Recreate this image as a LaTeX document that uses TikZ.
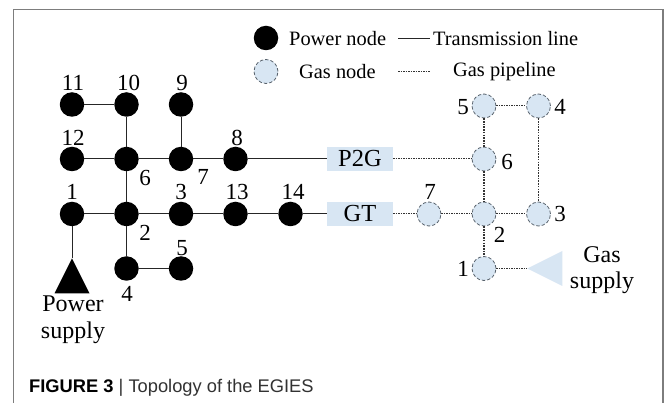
\documentclass[tikz,border=0pt]{standalone}
\usepackage{fontspec}
\usetikzlibrary{shapes.geometric}
\setmainfont{Liberation Serif}
\newfontfamily\capfont{Liberation Sans}
\definecolor{gasfill}{RGB}{216,230,243}
\definecolor{framegray}{RGB}{125,125,125}
\definecolor{gasedge}{RGB}{90,100,110}
\definecolor{capgray}{RGB}{50,50,50}
\tikzset{
  pnode/.style={circle,fill=black,minimum size=24.5pt,inner sep=0pt},
  gnode/.style={circle,fill=gasfill,draw=gasedge,dash pattern=on 3.4pt off 2pt,line width=0.8pt,minimum size=24pt,inner sep=0pt},
  conv/.style={fill=gasfill,minimum width=66pt,minimum height=24pt,inner sep=0pt,font=\fontsize{24.5}{24.5}\selectfont},
  lbl/.style={inner sep=0pt,font=\fontsize{23}{23}\selectfont},
  txt/.style={inner sep=0pt,font=\fontsize{20.4}{20.4}\selectfont},
  sup/.style={inner sep=0pt,align=center,font=\fontsize{24}{26.5}\selectfont},
  tline/.style={line width=1pt,draw=black!85},
  tthick/.style={line width=1.6pt,draw=black!85},
  gline/.style={line width=1pt,dash pattern=on 1.5pt off 1pt,draw=black!80},
  gthick/.style={line width=1.5pt,dash pattern=on 1.6pt off 1.1pt,draw=black!80},
  supply/.style={isosceles triangle,isosceles triangle apex angle=54,isosceles triangle stretches,minimum width=35pt,minimum height=35pt,inner sep=0pt,anchor=apex},
}
\begin{document}
\begin{tikzpicture}[x=1pt,y=-1pt]
\useasboundingbox (0,0) rectangle (665,403);
\fill[white] (0,0) rectangle (665,403);
\coordinate (fbl) at (13.5,403);
\coordinate (ftl) at (13.5,9.5);
\coordinate (ftr) at (663,9.5);
\coordinate (fbr) at (663,403);
\draw[framegray,line width=1.2pt] (fbl) -- (ftl) -- (ftr) -- (fbr);
% power nodes
\node[pnode] (p11) at (72,104.5) {};
\node[pnode] (p10) at (126.5,104.5) {};
\node[pnode] (p9) at (181,104.5) {};
\node[pnode] (p12) at (72,159) {};
\node[pnode] (p6) at (126.5,159) {};
\node[pnode] (p7) at (181,159) {};
\node[pnode] (p8) at (235.5,159) {};
\node[pnode] (p1) at (72,214) {};
\node[pnode] (p2) at (126.5,214) {};
\node[pnode] (p3) at (181,214) {};
\node[pnode] (p13) at (235.5,214) {};
\node[pnode] (p14) at (290.5,214) {};
\node[pnode] (p4) at (126.5,268.5) {};
\node[pnode] (p5) at (181,268.5) {};
\node[supply,fill=black,shape border rotate=90] (ps) at (72,258) {};
% converters
\node[conv] (p2g) at (360,159) {P2G};
\node[conv] (gt) at (360,214) {GT};
% gas nodes
\node[gnode] (g5) at (484,106) {};
\node[gnode] (g4) at (538.5,106) {};
\node[gnode] (g6) at (484,159) {};
\node[gnode] (g7) at (429,214) {};
\node[gnode] (g2) at (484,214) {};
\node[gnode] (g3) at (538.5,214) {};
\node[gnode] (g1) at (484,268.5) {};
\node[supply,fill=gasfill,shape border rotate=180] (gs) at (527,268.5) {};
% power lines
\draw[tline] (p11) -- (p10);
\draw[tthick] (p10) -- (p6);
\draw[tline] (p9) -- (p7);
\draw[tline] (p12) -- (p6) -- (p7) -- (p8) -- (p2g);
\draw[tthick] (p6) -- (p2);
\draw[tline] (p1) -- (p2) -- (p3) -- (p13) -- (p14) -- (gt);
\draw[tline] (p2) -- (p4) -- (p5);
\draw[tline] (p1) -- (ps.apex);
% gas lines
\draw[gline] (g5) -- (g4);
\draw[gthick] (g5) -- (g6);
\draw[gthick] (g6) -- (g2);
\draw[gthick] (g4) -- (g3);
\draw[gline] (p2g) -- (g6);
\draw[gline] (gt) -- (g7) -- (g2) -- (g3);
\draw[gthick] (g2) -- (g1);
\draw[gline] (g1) -- (gs.apex);
% power labels
\node[lbl] (l11) at (73,83) {11};
\node[lbl] (l10) at (128.5,83) {10};
\node[lbl] (l9) at (182,83) {9};
\node[lbl] (l12) at (73,138) {12};
\node[lbl] (l6) at (145,178) {6};
\node[lbl] (l7) at (203,177) {7};
\node[lbl] (l8) at (237,138) {8};
\node[lbl] (l1) at (72,192) {1};
\node[lbl] (l3) at (181,192) {3};
\node[lbl] (l13) at (237,192) {13};
\node[lbl] (l14) at (293,192) {14};
\node[lbl] (l2) at (145,233) {2};
\node[lbl] (l5) at (182,248) {5};
\node[lbl] (l4) at (127,294) {4};
\node[sup] (psl) at (73,319.5) {Power\\supply};
% gas labels
\node[lbl] (a5) at (463,107) {5};
\node[lbl] (a4) at (560,107) {4};
\node[lbl] (a6) at (507,162) {6};
\node[lbl] (a7) at (430,192) {7};
\node[lbl] (a3) at (560,214) {3};
\node[lbl] (a2) at (499.5,235) {2};
\node[lbl] (a1) at (463,269) {1};
\node[sup] (gsl) at (602,270) {Gas\\supply};
% legend
\node[pnode] (lp) at (266,38) {};
\node[gnode] (lg) at (266,71.5) {};
\node[txt,anchor=west] (tp) at (289,38.5) {Power node};
\node[txt,anchor=west] (tg) at (299,71.5) {Gas node};
\coordinate (t1) at (398,38.5);
\coordinate (t2) at (430,38.5);
\coordinate (d1) at (398,71.5);
\coordinate (d2) at (430,71.5);
\draw[tline] (t1) -- (t2);
\draw[gline,line width=0.8pt] (d1) -- (d2);
\node[txt,anchor=west] (tt) at (433,38.5) {Transmission line};
\node[txt,anchor=west] (tq) at (453,71.5) {Gas pipeline};
% caption
\node[inner sep=0pt,anchor=west,text=capgray,font=\capfont\fontsize{18.3}{18.3}\selectfont] (cap) at (29,388) {\textcolor{black}{\textbf{FIGURE 3}} | Topology of the EGIES};
\end{tikzpicture}
\end{document}
